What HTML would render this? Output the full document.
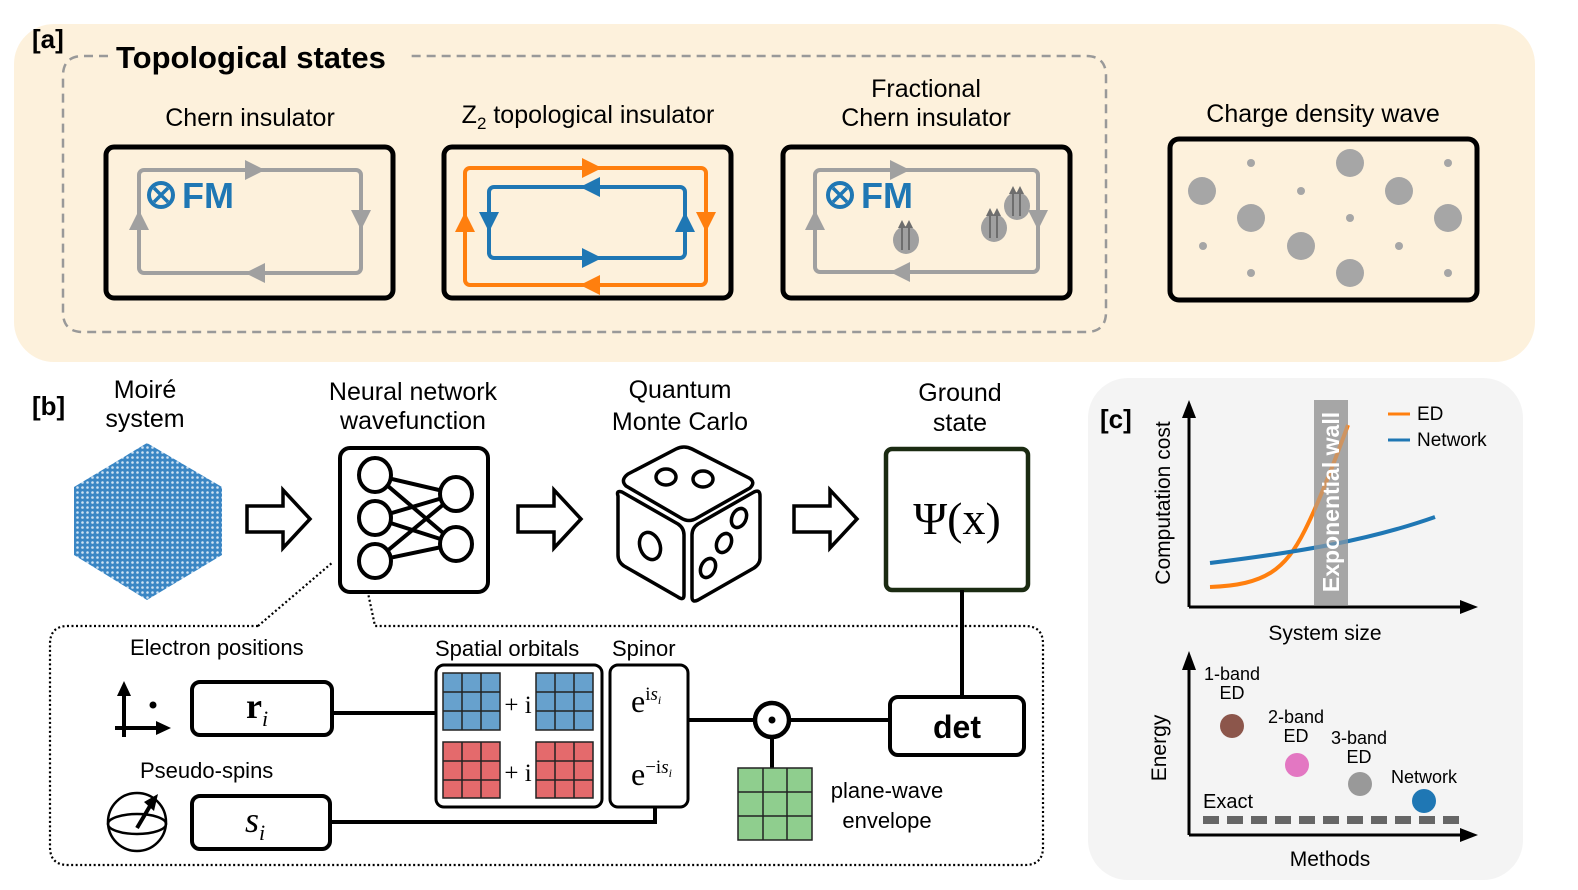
<!DOCTYPE html>
<html><head><meta charset="utf-8"><style>
html,body{margin:0;padding:0;background:#fff;overflow:hidden}
svg{display:block}
text{font-family:"Liberation Sans",sans-serif}
.s{font-family:"Liberation Serif",serif}
</style></head><body>
<svg width="1578" height="890" viewBox="0 0 1578 890" xmlns="http://www.w3.org/2000/svg">
<defs>
<pattern id="moire" width="5" height="5" patternUnits="userSpaceOnUse">
<rect width="5" height="5" fill="#3a86c4"/>
<circle cx="2.5" cy="2.5" r="1.3" fill="#cfe2f2"/>
</pattern>
</defs>
<!-- Panel a -->
<rect x="14" y="24" width="1521" height="338" rx="40" fill="#fdf1dc"/>
<text x="32" y="48" font-size="26" font-weight="bold">[a]</text>
<path d="M108 56 H83 Q63 56 63 76 V312 Q63 332 83 332 H1086 Q1106 332 1106 312 V76 Q1106 56 1086 56 H410" fill="none" stroke="#999" stroke-width="2.5" stroke-dasharray="9 6"/>
<text x="116" y="68" font-size="31" font-weight="bold">Topological states</text>

<text x="250" y="126" font-size="25" text-anchor="middle">Chern insulator</text>
<text x="588" y="123" font-size="25" text-anchor="middle">Z<tspan font-size="17" dy="6">2</tspan><tspan dy="-6"> topological insulator</tspan></text>
<text x="926" y="97" font-size="25" text-anchor="middle">Fractional</text>
<text x="926" y="126" font-size="25" text-anchor="middle">Chern insulator</text>
<text x="1323" y="122" font-size="25" text-anchor="middle">Charge density wave</text>

<g fill="none" stroke="#000" stroke-width="5">
<rect x="106" y="147" width="287" height="151" rx="8"/>
<rect x="444" y="147" width="287" height="151" rx="8"/>
<rect x="783" y="147" width="287" height="151" rx="8"/>
<rect x="1170" y="139" width="307" height="161" rx="9"/>
</g>
<rect x="139" y="170" width="222" height="103" rx="5" fill="none" stroke="#a0a0a0" stroke-width="4"/>
<g fill="#a0a0a0">
<polygon points="245,160 265,170 245,180"/>
<polygon points="351,210 371,210 361,230"/>
<polygon points="265,263 245,273 265,283"/>
<polygon points="129,230 149,230 139,210"/>
</g>
<g fill="#1f77b4">
<circle cx="161" cy="195" r="12" fill="none" stroke="#1f77b4" stroke-width="4"/>
<path d="M154 188 L168 202 M168 188 L154 202" stroke="#1f77b4" stroke-width="3.5"/>
<text x="182" y="208" font-size="36" font-weight="bold">FM</text>
</g>
<rect x="465" y="168" width="241" height="117" rx="5" fill="none" stroke="#ff7f0e" stroke-width="4"/>
<rect x="489" y="187" width="196" height="71" rx="5" fill="none" stroke="#1f77b4" stroke-width="4"/>
<g fill="#ff7f0e">
<polygon points="582,158 602,168 582,178"/>
<polygon points="696,212 716,212 706,232"/>
<polygon points="600,275 580,285 600,295"/>
<polygon points="455,232 475,232 465,212"/>
</g>
<g fill="#1f77b4">
<polygon points="600,177 580,187 600,197"/>
<polygon points="479,212 499,212 489,232"/>
<polygon points="582,248 602,258 582,268"/>
<polygon points="675,232 695,232 685,212"/>
</g>
<rect x="815" y="170" width="223" height="102" rx="5" fill="none" stroke="#a0a0a0" stroke-width="4"/>
<g fill="#a0a0a0">
<polygon points="890,160 910,170 890,180"/>
<polygon points="1028,210 1048,210 1038,230"/>
<polygon points="910,262 890,272 910,282"/>
<polygon points="805,230 825,230 815,210"/>
<ellipse cx="906" cy="240" rx="13" ry="14"/>
<ellipse cx="994" cy="228" rx="13" ry="14"/>
<ellipse cx="1017" cy="206" rx="13" ry="14"/>
</g>
<g stroke="#6e6e6e" stroke-width="2">
<path d="M902 250 V226 M909 250 V226 M990 238 V214 M997 238 V214 M1013 216 V192 M1020 216 V192"/>
</g>
<g fill="#6e6e6e">
<polygon points="898,228 902,220 906,228"/><polygon points="905,228 909,220 913,228"/>
<polygon points="986,216 990,208 994,216"/><polygon points="993,216 997,208 1001,216"/>
<polygon points="1009,194 1013,186 1017,194"/><polygon points="1016,194 1020,186 1024,194"/>
</g>
<g fill="#1f77b4">
<circle cx="840" cy="195" r="12" fill="none" stroke="#1f77b4" stroke-width="4"/>
<path d="M833 188 L847 202 M847 188 L833 202" stroke="#1f77b4" stroke-width="3.5"/>
<text x="861" y="208" font-size="36" font-weight="bold">FM</text>
</g>
<g fill="#a6a6a6">
<circle cx="1202" cy="191" r="14"/><circle cx="1251" cy="218" r="14"/><circle cx="1350" cy="163" r="14"/>
<circle cx="1399" cy="191" r="14"/><circle cx="1301" cy="246" r="14"/><circle cx="1350" cy="273" r="14"/><circle cx="1448" cy="218" r="14"/>
<circle cx="1251" cy="163" r="4"/><circle cx="1301" cy="191" r="4"/><circle cx="1350" cy="218" r="4"/><circle cx="1203" cy="246" r="4"/>
<circle cx="1399" cy="246" r="4"/><circle cx="1251" cy="273" r="4"/><circle cx="1448" cy="163" r="4"/><circle cx="1448" cy="273" r="4"/>
</g>

<!-- Panel b -->
<text x="32" y="415" font-size="26" font-weight="bold">[b]</text>
<g font-size="25" text-anchor="middle">
<text x="145" y="398">Moiré</text><text x="145" y="427">system</text>
<text x="413" y="400">Neural network</text><text x="413" y="429">wavefunction</text>
<text x="680" y="398">Quantum</text><text x="680" y="430">Monte Carlo</text>
<text x="960" y="401">Ground</text><text x="960" y="431">state</text>
</g>
<polygon points="147,443 222,487 222,555 147,600 74,555 74,487" fill="url(#moire)"/>
<g fill="#fff" stroke="#000" stroke-width="3.5" stroke-linejoin="miter">
<polygon points="247,506 283,506 283,490 310,519 283,548 283,532 247,532"/>
<polygon points="518,506 554,506 554,490 581,519 554,548 554,532 518,532"/>
<polygon points="794,506 830,506 830,490 857,519 830,548 830,532 794,532"/>
</g>
<rect x="340" y="448" width="148" height="144" rx="10" fill="#fff" stroke="#000" stroke-width="4"/>
<g stroke="#000" stroke-width="4" fill="none">
<path d="M375 475 L456 494 M375 475 L456 544 M375 518 L456 494 M375 518 L456 544 M375 561 L456 494 M375 561 L456 544"/>
</g>
<g fill="#fff" stroke="#000" stroke-width="4">
<ellipse cx="375" cy="475" rx="16" ry="17"/><ellipse cx="375" cy="518" rx="16" ry="17"/><ellipse cx="375" cy="561" rx="16" ry="17"/>
<ellipse cx="456" cy="494" rx="16" ry="17"/><ellipse cx="456" cy="544" rx="16" ry="17"/>
</g>
<g fill="#fff" stroke="#000" stroke-width="3.5" stroke-linejoin="round">
<path d="M626 486 Q620 480 628 474 L676 449 Q684 445 692 449 L749 478 Q756 482 750 488 L697 518 Q689 523 681 518 Z"/>
<path d="M618 496 Q616 490 622 492 L678 524 Q684 528 684 535 L684 595 Q684 601 678 597 L624 566 Q618 562 618 555 Z"/>
<path d="M692 535 Q692 528 698 524 L754 492 Q760 489 760 496 L760 558 Q760 564 754 568 L698 600 Q692 603 692 597 Z"/>
<ellipse cx="666" cy="477" rx="10" ry="8"/><ellipse cx="703" cy="479" rx="10" ry="8"/>
<ellipse cx="650" cy="546" rx="10" ry="14" transform="rotate(-20 650 546)"/>
<ellipse cx="739" cy="518" rx="7" ry="10" transform="rotate(25 739 518)"/>
<ellipse cx="724" cy="543" rx="7" ry="10" transform="rotate(25 724 543)"/>
<ellipse cx="708" cy="568" rx="7" ry="10" transform="rotate(25 708 568)"/>
</g>
<rect x="886" y="449" width="142" height="141" rx="6" fill="#fff" stroke="#1b2b12" stroke-width="4.5"/>
<text x="957" y="534" font-size="46" text-anchor="middle" class="s">Ψ(x)</text>
<path d="M258 626 H68 Q50 626 50 644 V847 Q50 865 68 865 H1025 Q1043 865 1043 847 V644 Q1043 626 1025 626 H375 L368 593 M258 626 L333 562" fill="none" stroke="#000" stroke-width="2.2" stroke-dasharray="2 2.5"/>
<g stroke="#000" stroke-width="4" fill="none">
<path d="M962 590 V697"/>
<path d="M332 713 H436"/>
<path d="M330 822 H655 V807"/>
<path d="M688 720 H755 M789 720 H890"/>
<path d="M772 737 V768"/>
</g>
<circle cx="772" cy="720" r="17" fill="#fff" stroke="#000" stroke-width="4.5"/>
<circle cx="772" cy="720" r="3.5" fill="#000"/>
<text x="130" y="655" font-size="22">Electron positions</text>
<text x="140" y="778" font-size="22">Pseudo-spins</text>
<g stroke="#000" stroke-width="4" fill="#000">
<path d="M124 737 V692 M115 728 H160"/>
<polygon points="117,696 131,696 124,681" stroke="none"/>
<polygon points="156,721 171,728 156,735" stroke="none"/>
<circle cx="153" cy="705" r="3.5" stroke="none"/>
</g>
<g fill="none" stroke="#000" stroke-width="2.5">
<circle cx="137" cy="822" r="29"/>
<ellipse cx="137" cy="824" rx="29" ry="10"/>
<path d="M137 828 L150 806" stroke-width="4"/>
</g>
<polygon points="144,802 158,794 154,811" fill="#000"/>
<rect x="192" y="682" width="140" height="53" rx="8" fill="#fff" stroke="#000" stroke-width="4"/>
<text x="246" y="718" font-size="36" font-weight="bold" class="s">r<tspan font-size="22" font-weight="normal" font-style="italic" dy="8">i</tspan></text>
<rect x="192" y="796" width="138" height="53" rx="8" fill="#fff" stroke="#000" stroke-width="4"/>
<text x="245" y="832" font-size="36" font-style="italic" class="s">s<tspan font-size="22" dy="8">i</tspan></text>
<text x="435" y="656" font-size="22">Spatial orbitals</text>
<text x="612" y="656" font-size="22">Spinor</text>
<rect x="436" y="665" width="166" height="142" rx="8" fill="#fff" stroke="#000" stroke-width="3"/>
<g stroke="#222" stroke-width="1.5">
<g fill="#67a1cd"><rect x="443" y="673" width="57" height="57"/><rect x="536" y="673" width="57" height="57"/></g>
<g fill="#e46a6c"><rect x="443" y="742" width="57" height="56"/><rect x="536" y="742" width="57" height="56"/></g>
<path d="M462 673 V730 M481 673 V730 M443 692 H500 M443 711 H500 M555 673 V730 M574 673 V730 M536 692 H593 M536 711 H593 M462 742 V798 M481 742 V798 M443 761 H500 M443 780 H500 M555 742 V798 M574 742 V798 M536 761 H593 M536 780 H593" fill="none"/>
</g>
<text x="518" y="713" font-size="25" text-anchor="middle" class="s">+ i</text>
<text x="518" y="781" font-size="25" text-anchor="middle" class="s">+ i</text>
<rect x="610" y="665" width="78" height="142" rx="8" fill="#fff" stroke="#000" stroke-width="3"/>
<text x="631" y="712" font-size="32" class="s">e<tspan font-size="19" dy="-12">i</tspan><tspan font-size="19" font-style="italic">s</tspan><tspan font-size="12" font-style="italic" dy="4">i</tspan></text>
<text x="631" y="785" font-size="32" class="s">e<tspan font-size="19" dy="-12">−i</tspan><tspan font-size="19" font-style="italic">s</tspan><tspan font-size="12" font-style="italic" dy="4">i</tspan></text>
<rect x="738" y="768" width="74" height="72" fill="#8fce8e" stroke="#222" stroke-width="1.5"/>
<path d="M763 768 V840 M787 768 V840 M738 792 H812 M738 816 H812" stroke="#222" stroke-width="1.5"/>
<text x="887" y="798" font-size="22" text-anchor="middle">plane-wave</text>
<text x="887" y="828" font-size="22" text-anchor="middle">envelope</text>
<rect x="890" y="697" width="134" height="58" rx="8" fill="#fff" stroke="#000" stroke-width="4"/>
<text x="957" y="738" font-size="32" font-weight="bold" text-anchor="middle">det</text>

<!-- Panel c -->
<rect x="1088" y="378" width="435" height="502" rx="40" fill="#f4f4f4"/>
<text x="1100" y="428" font-size="26" font-weight="bold">[c]</text>
<rect x="1314" y="400" width="34" height="205" fill="#a6a6a6"/>
<path d="M1210 587 C1265 585 1285 570 1305 530 C1320 500 1335 460 1348 425" fill="none" stroke="#ff7f0e" stroke-width="4"/>
<path d="M1210 563 C1300 552 1370 540 1435 517" fill="none" stroke="#1f77b4" stroke-width="4"/>
<rect x="1314" y="400" width="34" height="205" fill="#a6a6a6" opacity="0.55"/>
<text transform="translate(1339 502) rotate(-90)" font-size="23" font-weight="bold" fill="#fff" text-anchor="middle">Exponential wall</text>
<g stroke="#000" stroke-width="3" fill="none">
<path d="M1189 607 V405 M1189 607 H1470"/>
<path d="M1189 835 V657 M1189 835 H1470"/>
</g>
<g fill="#000">
<polygon points="1182,418 1189,400 1196,418"/>
<polygon points="1460,600 1478,607 1460,614"/>
<polygon points="1182,670 1189,651 1196,670"/>
<polygon points="1460,828 1478,835 1460,842"/>
</g>
<path d="M1388 414 H1410" stroke="#ff7f0e" stroke-width="3"/>
<path d="M1388 440 H1410" stroke="#1f77b4" stroke-width="3"/>
<text x="1417" y="420" font-size="19">ED</text>
<text x="1417" y="446" font-size="19">Network</text>
<text transform="translate(1170 503) rotate(-90)" font-size="21" text-anchor="middle">Computation cost</text>
<text x="1325" y="640" font-size="21" text-anchor="middle">System size</text>
<text transform="translate(1166 748) rotate(-90)" font-size="21" text-anchor="middle">Energy</text>
<text x="1330" y="866" font-size="21" text-anchor="middle">Methods</text>
<path d="M1203 820 H1465" stroke="#666" stroke-width="8" stroke-dasharray="16 8"/>
<text x="1203" y="808" font-size="20">Exact</text>
<circle cx="1232" cy="726" r="12" fill="#8c564b"/>
<circle cx="1297" cy="765" r="12" fill="#e377c2"/>
<circle cx="1360" cy="784" r="12" fill="#999"/>
<circle cx="1424" cy="801" r="12" fill="#1f77b4"/>
<g font-size="18" text-anchor="middle">
<text x="1232" y="680">1-band</text><text x="1232" y="699">ED</text>
<text x="1296" y="723">2-band</text><text x="1296" y="742">ED</text>
<text x="1359" y="744">3-band</text><text x="1359" y="763">ED</text>
<text x="1424" y="783">Network</text>
</g>
</svg>
</body></html>
